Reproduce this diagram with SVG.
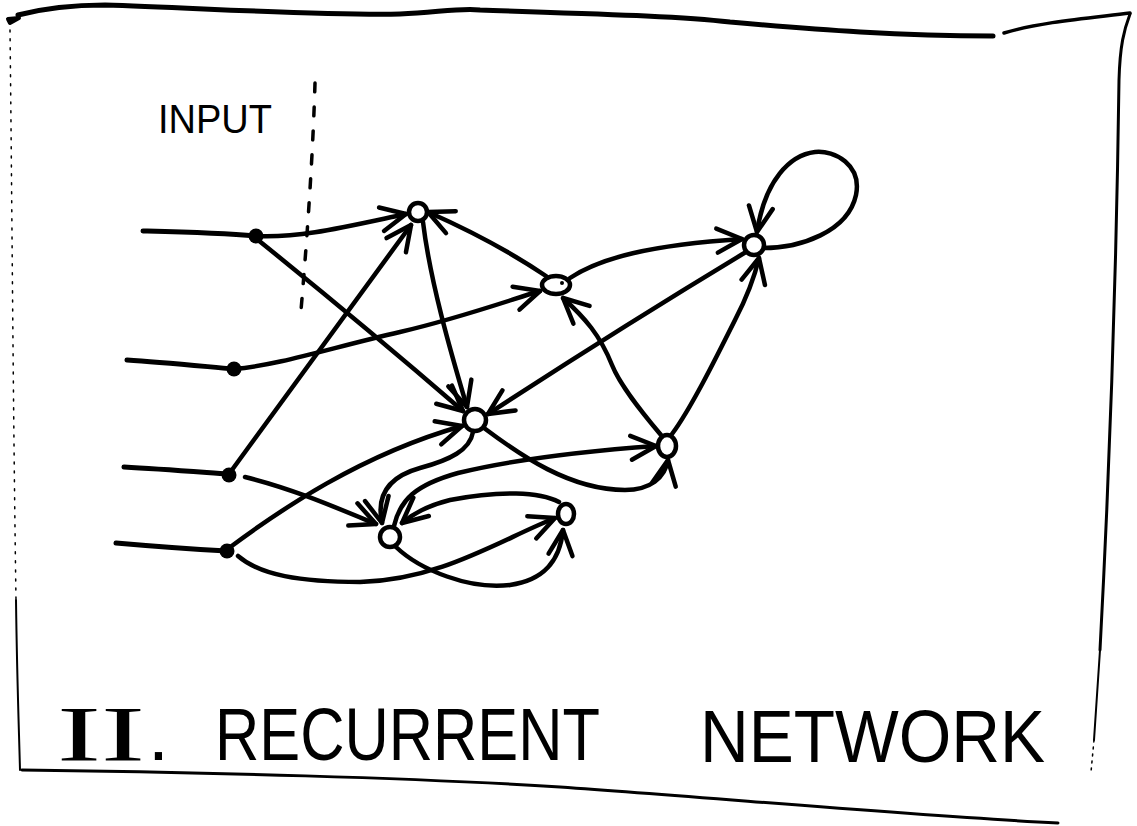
<svg xmlns="http://www.w3.org/2000/svg" width="1137" height="826" viewBox="0 0 1137 826">
  <style>
    .frame { fill: none; stroke: #000; stroke-linecap: round; stroke-linejoin: round; }
    .wire { fill: none; stroke: #000; stroke-width: 5; stroke-linecap: round; stroke-linejoin: round; }
    .edge { fill: none; stroke: #000; stroke-width: 4.5; stroke-linecap: round; stroke-linejoin: round; marker-end: url(#barb); }
    .unit { fill: #fff; stroke: #000; stroke-width: 4.5; }
    .tap { fill: #000; }
    .hand { font-family: "Liberation Sans", Arial, sans-serif; fill: #000; }
  </style>
  <defs>
    <marker id="barb" viewBox="-32 -17 36 34" refX="0" refY="0" markerWidth="36" markerHeight="34" markerUnits="userSpaceOnUse" orient="auto">
      <path d="M -25,-12 L 0,0 L -25,12" fill="none" stroke="#000" stroke-width="4.5" stroke-linecap="round" stroke-linejoin="round"/>
    </marker>
  </defs>
  <rect width="1137" height="826" fill="#fff"/>

  <!-- sheet outline -->
  <g id="frame">
    <path class="frame" stroke-width="5" d="M18,15 C 45,8 75,5 105,5 C 200,8 330,16 400,14 C 440,12 460,8 480,10 C 600,14 680,16 730,22 C 820,30 900,36 993,36"/>
    <path class="frame" stroke-width="4" d="M8,19 L 19,18 L 10,23 Z"/>
    <path class="frame" stroke-width="3.5" d="M1004,33 C 1040,22 1090,18 1130,13"/>
    <path class="frame" stroke-width="3" d="M1130,14 C 1124,30 1120,45 1119,80 C 1116,300 1108,500 1100,650"/>
    <path class="frame" stroke-width="2" d="M1100,650 L 1094,740"/>
    <path class="frame" stroke-width="1.5" stroke-dasharray="2 5" d="M1094,740 L 1091,772"/>
    <path class="frame" stroke-width="1.5" stroke-dasharray="2 7" d="M10,30 C 12,200 13,400 16,600"/>
    <path class="frame" stroke-width="2" d="M16,600 C 17,680 19,730 20,770"/>
    <path class="frame" stroke-width="3" d="M22,770 C 200,772 420,778 560,787 C 720,798 900,815 1058,823"/>
  </g>

  <!-- input boundary -->
  <g id="input-boundary">
    <path class="frame" stroke-width="3.5" stroke-dasharray="9 15" d="M315,83 C 313,150 308,230 300,322"/>
    <text class="hand" x="158" y="133" font-size="40" textLength="114" lengthAdjust="spacingAndGlyphs">INPUT</text>
  </g>

  <!-- input lines and taps -->
  <g id="input-1">
    <path class="wire" d="M143,231 C 180,232 220,233 256,236"/>
    <circle class="tap" cx="256" cy="236" r="7.5"/>
  </g>
  <g id="input-2">
    <path class="wire" d="M127,360 C 160,362 200,366 234,369"/>
    <circle class="tap" cx="234" cy="369" r="7.5"/>
  </g>
  <g id="input-3">
    <path class="wire" d="M124,467 C 160,469 200,472 229,474"/>
    <circle class="tap" cx="229" cy="475" r="7.5"/>
  </g>
  <g id="input-4">
    <path class="wire" d="M116,543 C 150,546 190,549 227,551"/>
    <circle class="tap" cx="227" cy="551" r="7.5"/>
  </g>

  <!-- connections -->
  <g id="connectors">
    <path class="edge" d="M256,236 C 300,238 340,228 406,214"/>
    <path class="edge" d="M258,240 Q 360,322 463,411"/>
    <path class="edge" d="M234,369 C 280,365 330,348 400,332 C 460,318 510,300 540,291"/>
    <path class="edge" d="M229,474 L 411,225"/>
    <path class="edge" d="M245,477 C 290,488 330,505 376,524"/>
    <path class="edge" d="M229,548 C 280,510 360,455 462,426"/>
    <path class="edge" d="M238,556 C 260,575 300,582 360,582 C 440,580 500,540 555,518"/>
    <path class="edge" d="M546,276 C 515,255 480,235 428,212"/>
    <path class="edge" stroke-width="3.5" d="M423,222 C 430,280 450,350 467,407"/>
    <path class="edge" d="M570,278 C 600,258 650,245 742,239"/>
    <path class="edge" d="M763,248 C 800,248 848,232 856,195 C 862,165 835,150 815,152 C 790,155 765,180 757,232"/>
    <path class="edge" d="M746,252 Q 620,328 488,414"/>
    <path class="edge" d="M672,434 C 690,410 715,360 735,320 C 748,295 755,275 759,258"/>
    <path class="edge" d="M661,435 C 640,410 620,385 612,365 C 600,335 585,318 563,298"/>
    <path class="edge" d="M484,428 C 520,455 570,490 625,490 C 650,490 665,478 668,460"/>
    <path class="edge" d="M394,526 C 400,500 415,485 458,473 C 520,458 600,450 656,446"/>
    <path class="edge" d="M473,432 C 470,450 450,460 420,468 C 395,475 375,490 382,523"/>
    <path class="edge" d="M559,502 C 540,492 500,490 450,500 C 430,505 415,512 402,523"/>
    <path class="edge" d="M396,547 C 420,570 470,590 510,585 C 545,580 560,560 563,530"/>
  </g>

  <!-- units -->
  <g id="unit-1"><circle class="unit" cx="418" cy="212" r="9"/></g>
  <g id="unit-2">
    <ellipse class="unit" cx="556" cy="285" rx="14" ry="9"/>
    <circle class="tap" cx="562" cy="283" r="2"/>
  </g>
  <g id="unit-3"><circle class="unit" cx="754" cy="245" r="10"/></g>
  <g id="unit-4"><circle class="unit" cx="475" cy="420" r="11"/></g>
  <g id="unit-5"><ellipse class="unit" cx="667" cy="446" rx="9" ry="11"/></g>
  <g id="unit-6"><circle class="unit" cx="390" cy="537" r="10"/></g>
  <g id="unit-7"><ellipse class="unit" cx="566" cy="514" rx="8" ry="10"/></g>

  <!-- caption -->
  <g id="caption">
    <text x="57" y="760" font-family="'Liberation Serif', 'Times New Roman', serif" font-size="78" textLength="88" lengthAdjust="spacingAndGlyphs">II</text>
    <text class="hand" x="148" y="760" font-size="75">.</text>
    <text class="hand" x="215" y="760" font-size="75" textLength="385" lengthAdjust="spacingAndGlyphs">RECURRENT</text>
    <text class="hand" x="700" y="762" font-size="75" textLength="345" lengthAdjust="spacingAndGlyphs">NETWORK</text>
  </g>
</svg>
